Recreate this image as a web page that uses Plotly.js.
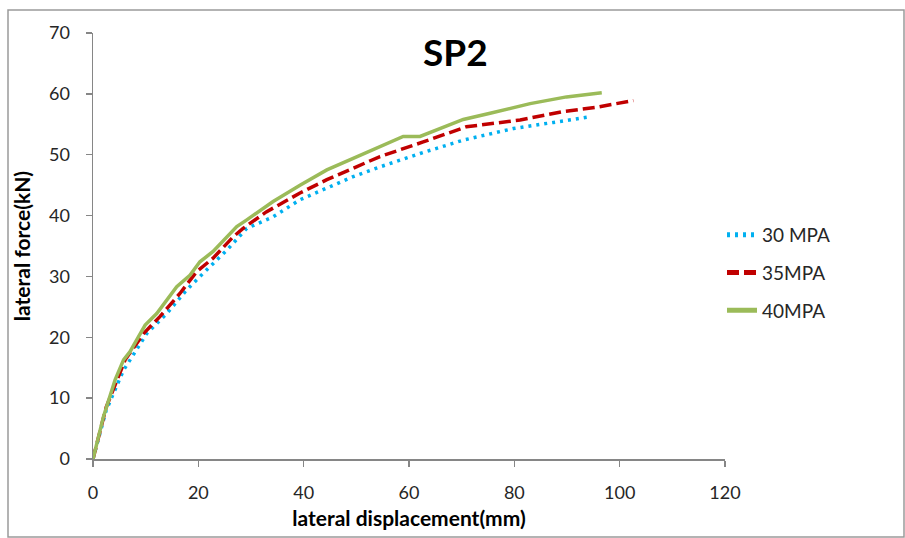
<!DOCTYPE html>
<html>
<head>
<meta charset="utf-8">
<script src="https://cdn.plot.ly/plotly-3.0.1.min.js"></script>
<style>html,body{margin:0;padding:0;background:#fff;}#chart{width:905px;height:538px;}</style>
</head>
<body>
<div id="chart"></div>
<script>
const seriesNames = ["30 MPA", "35MPA", "40MPA"];

const x30 = [0, 2.5, 5.8, 10.2, 14.0, 17.8, 21.6, 25.4, 29.2, 34.2, 39.3, 44.4, 49.4, 54.5, 62.1, 70.3, 79.8, 87.4, 94.0];
const y30 = [0, 8.0, 14.6, 20.6, 23.9, 27.8, 31.1, 34.3, 37.9, 39.8, 42.6, 44.5, 46.4, 48.0, 50.2, 52.4, 54.3, 55.3, 56.2];

const x35 = [0, 2.5, 6.1, 9.6, 12.7, 16.5, 19.7, 22.8, 26.6, 28.5, 32.9, 39.3, 44.4, 49.4, 54.5, 62.7, 70.9, 81.1, 89.3, 95.6, 102.6];
const y35 = [0, 8.5, 16.3, 20.6, 23.4, 27.2, 30.8, 33.0, 36.5, 37.9, 40.6, 43.7, 45.9, 47.8, 49.7, 52.1, 54.6, 55.7, 57.1, 57.8, 58.9];

const x40 = [0, 2.0, 4.2, 5.8, 7.0, 9.9, 12.1, 15.9, 18.4, 20.3, 22.8, 27.3, 29.2, 34.2, 39.3, 44.4, 49.4, 54.5, 58.9, 62.1, 70.3, 75.4, 83.0, 89.9, 96.6];
const y40 = [0, 7.0, 13.0, 16.3, 17.6, 22.0, 23.9, 28.3, 30.2, 32.4, 34.1, 38.2, 39.3, 42.3, 45.0, 47.5, 49.4, 51.3, 53.0, 53.0, 55.8, 56.8, 58.4, 59.5, 60.2];

const xTicks = [0, 20, 40, 60, 80, 100, 120];
const yTicks = [0, 10, 20, 30, 40, 50, 60, 70];

const font = "Lato, 'Open Sans', sans-serif";

const traces = [
  {x: x30, y: y30, name: seriesNames[0], legendgroup: "a", mode: "lines", line: {color: "#00B0F0", width: 3.5, dash: "3px,5px"}},
  {x: x35, y: y35, name: seriesNames[1], legendgroup: "b", mode: "lines", line: {color: "#C00000", width: 3.5, dash: "12px,5px"}},
  {x: x40, y: y40, name: seriesNames[2], legendgroup: "c", mode: "lines", line: {color: "#9BBB59", width: 3.5, dash: "solid"}}
];

const L = 93, R = 725, T = 33, B = 459, W = 905, H = 538;
const pw = R - L, ph = B - T;
const px = v => (v - L) / pw;
const py = v => (B - v) / ph;

const layout = {
  width: W, height: H,
  margin: {l: L, r: W - R, t: T, b: H - B, pad: 0},
  paper_bgcolor: "#fff", plot_bgcolor: "#fff",
  showlegend: true,
  font: {family: font, color: "#262626", size: 16},
  xaxis: {
    range: [0, 120], tickvals: xTicks, ticktext: xTicks.map(String),
    showgrid: false, zeroline: false, showline: true, linecolor: "#868686", linewidth: 1.5,
    ticks: "outside", ticklen: 6, tickcolor: "#868686", tickwidth: 1.5,
    tickfont: {family: font, size: 18, color: "#262626"}, ticklabelstandoff: 11,
    title: {text: "<b>lateral displacement(mm)</b>", font: {family: font, size: 21, color: "#000"}, standoff: 9},
    automargin: false, fixedrange: true
  },
  yaxis: {
    range: [0, 70], tickvals: yTicks, ticktext: yTicks.map(String),
    showgrid: false, zeroline: false, showline: true, linecolor: "#868686", linewidth: 1.5,
    ticks: "outside", ticklen: 6, tickcolor: "#868686", tickwidth: 1.5,
    tickfont: {family: font, size: 18, color: "#262626"}, ticklabelstandoff: 12,
    title: {text: "<b>lateral force(kN)</b>", font: {family: font, size: 21, color: "#000"}, standoff: 12},
    automargin: false, fixedrange: true
  },
  legend: {
    x: px(722), y: py(216), xanchor: "left", yanchor: "top",
    bgcolor: "rgba(0,0,0,0)", font: {family: font, size: 19, color: "#262626"},
    tracegroupgap: 10, itemsizing: "constant"
  },
  annotations: [
    {text: "<b>SP2</b>", xref: "paper", yref: "paper", x: px(455), y: py(52), xanchor: "center", yanchor: "middle",
     showarrow: false, font: {family: font, size: 37, color: "#000"}}
  ],
  shapes: [
    {type: "rect", xref: "paper", yref: "paper", x0: px(8), x1: px(904), y0: py(537), y1: py(10),
     line: {color: "#9a9a9a", width: 1.5}, fillcolor: "rgba(0,0,0,0)", layer: "below"}
  ]
};

Plotly.newPlot("chart", traces, layout, {displayModeBar: false, staticPlot: true});
</script>
</body>
</html>
